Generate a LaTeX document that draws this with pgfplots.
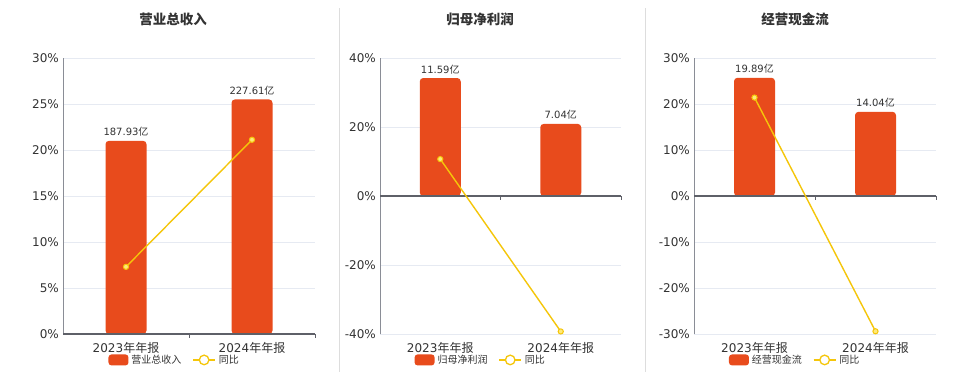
\documentclass[border=0pt]{standalone}
\usepackage{fontspec}
\setmainfont{DejaVu Sans}
\newfontfamily\cjk{Noto Sans CJK SC}
\usepackage{pgfplots}
\pgfplotsset{compat=1.18}
\definecolor{barc}{HTML}{E84B1C}
\definecolor{linec}{HTML}{F5C60A}
\definecolor{mfill}{HTML}{FFE97A}
\definecolor{gridc}{HTML}{E6EAF2}
\definecolor{axc}{HTML}{8A8D96}
\definecolor{zeroc}{HTML}{5E6068}
\definecolor{txt}{HTML}{333333}
\definecolor{sepc}{HTML}{DDDDDD}
\pgfplotsset{
  myax/.style={
    scale only axis, height=276bp,
    xmin=-0.5, xmax=1.5, xtick={0,1},
    xticklabels={{2023{\cjk 年年报}},{2024{\cjk 年年报}}},
    axis line style={draw=none},
    major tick length=0pt,
    ymajorgrids, grid style={color=gridc, line width=0.8bp},
    tick label style={text=txt, font=\fontsize{12bp}{14bp}\selectfont},
    yticklabel style={anchor=east, inner sep=0pt, xshift=-4bp},
    xticklabel style={anchor=center, inner sep=0pt, yshift=-14bp},
    clip=false,
    nodes near coords style={anchor=south, inner sep=0pt, yshift=4bp, text=txt, font=\fontsize{10bp}{12bp}\selectfont},
    legend style={draw=none, fill=none, legend columns=-1, font=\fontsize{10bp}{12bp}\selectfont\color{txt},
      /tikz/every even column/.append style={column sep=8bp}, inner sep=0pt,
      nodes={inner xsep=3bp}},
    legend cell align=left,
  },
  mybar/.style={ybar, fill=barc, draw=none, bar width=41bp, rounded corners=3.5bp,
    point meta=explicit symbolic,
    nodes near coords={\pgfplotspointmeta{\cjk 亿}},
    legend image code/.code={\fill[barc, rounded corners=3bp] (0bp,-5.5bp) rectangle (20bp,5.5bp);}},
  myline/.style={color=linec, line width=1.4bp, mark=*, mark size=2.6bp,
    mark options={fill=mfill, draw=linec, line width=1bp},
    legend image code/.code={\draw[linec, line width=1.3bp] (0bp,0bp)--(22bp,0bp);
      \draw[linec, line width=1.3bp, fill=white] (11bp,0bp) circle (4.8bp);}},
}
\begin{document}
\begin{tikzpicture}
\useasboundingbox (0bp,0bp) rectangle (960bp,372bp);
\fill[white] (0bp,0bp) rectangle (960bp,372bp);
\draw[sepc, line width=1.6bp] (339.5bp,0bp) -- (339.5bp,364bp);
\draw[sepc, line width=1.6bp] (645.5bp,0bp) -- (645.5bp,364bp);
\node[text=txt, font=\fontsize{13.5bp}{16bp}\selectfont\cjk\bfseries] at (173bp,353bp) {营业总收入};
\node[text=txt, font=\fontsize{13.5bp}{16bp}\selectfont\cjk\bfseries] at (480bp,353bp) {归母净利润};
\node[text=txt, font=\fontsize{13.5bp}{16bp}\selectfont\cjk\bfseries] at (795bp,353bp) {经营现金流};

% Panel 1
\begin{axis}[myax, at={(63bp,38bp)}, anchor=south west, width=252bp,
  ymin=0, ymax=30, ytick={0,5,10,15,20,25,30},
  yticklabels={0\%,5\%,10\%,15\%,20\%,25\%,30\%},
  legend style={at={(0.445,-0.094)}, anchor=center}]
\addplot[mybar] coordinates {(0,21.0) [187.93] (1,25.5) [227.61]};
\addlegendentry{\cjk 营业总收入}
\draw[axc, line width=1bp] (rel axis cs:0,0) -- (rel axis cs:0,1);
\draw[zeroc, line width=1.2bp] (axis cs:-0.5,0) -- (axis cs:1.5,0);
\draw[zeroc, line width=1bp] (axis cs:0.5,0) -- ([yshift=-4bp]axis cs:0.5,0);
\draw[zeroc, line width=1bp] (axis cs:1.5,0) -- ([yshift=-4bp]axis cs:1.5,0);
\addplot[myline] coordinates {(0,7.3) (1,21.11)};
\addlegendentry{\cjk 同比}
\end{axis}

% Panel 2
\begin{axis}[myax, at={(380bp,38bp)}, anchor=south west, width=241bp,
  ymin=-40, ymax=40, ytick={-40,-20,0,20,40},
  yticklabels={-40\%,-20\%,0\%,20\%,40\%},
  legend style={at={(0.42,-0.094)}, anchor=center}]
\addplot[mybar] coordinates {(0,34.2) [11.59] (1,20.9) [7.04]};
\addlegendentry{\cjk 归母净利润}
\draw[axc, line width=1bp] (rel axis cs:0,0) -- (rel axis cs:0,1);
\draw[zeroc, line width=1.2bp] (axis cs:-0.5,0) -- (axis cs:1.5,0);
\draw[zeroc, line width=1bp] (axis cs:0.5,0) -- ([yshift=-4bp]axis cs:0.5,0);
\draw[zeroc, line width=1bp] (axis cs:1.5,0) -- ([yshift=-4bp]axis cs:1.5,0);
\addplot[myline] coordinates {(0,10.7) (1,-39.26)};
\addlegendentry{\cjk 同比}
\end{axis}

% Panel 3
\begin{axis}[myax, at={(694bp,38bp)}, anchor=south west, width=242bp,
  ymin=-30, ymax=30, ytick={-30,-20,-10,0,10,20,30},
  yticklabels={-30\%,-20\%,-10\%,0\%,10\%,20\%,30\%},
  legend style={at={(0.42,-0.094)}, anchor=center}]
\addplot[mybar] coordinates {(0,25.7) [19.89] (1,18.3) [14.04]};
\addlegendentry{\cjk 经营现金流}
\draw[axc, line width=1bp] (rel axis cs:0,0) -- (rel axis cs:0,1);
\draw[zeroc, line width=1.2bp] (axis cs:-0.5,0) -- (axis cs:1.5,0);
\draw[zeroc, line width=1bp] (axis cs:0.5,0) -- ([yshift=-4bp]axis cs:0.5,0);
\draw[zeroc, line width=1bp] (axis cs:1.5,0) -- ([yshift=-4bp]axis cs:1.5,0);
\addplot[myline] coordinates {(0,21.4) (1,-29.41)};
\addlegendentry{\cjk 同比}
\end{axis}
\end{tikzpicture}
\end{document}
